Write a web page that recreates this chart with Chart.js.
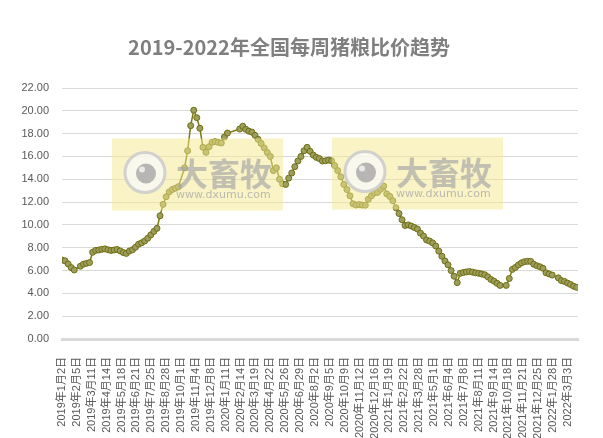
<!DOCTYPE html>
<html>
<head>
<meta charset="utf-8">
<script src="https://cdn.jsdelivr.net/npm/chart.js@4.4.0/dist/chart.umd.min.js"></script>
<style>
html, body { margin: 0; padding: 0; background: #fff; }
#wrap { width: 603px; height: 438px; }
</style>
</head>
<body>
<div id="wrap"><canvas id="chart"></canvas></div>
<script>
// tick labels every 34 days along the date axis
const tickLabels = [
    '2019年1月2日', '2019年2月5日', '2019年3月11日', '2019年4月14日', '2019年5月18日',
    '2019年6月21日', '2019年7月25日', '2019年8月28日', '2019年10月1日', '2019年11月4日',
    '2019年12月8日', '2020年1月11日', '2020年2月14日', '2020年3月19日', '2020年4月22日',
    '2020年5月26日', '2020年6月29日', '2020年8月2日', '2020年9月5日', '2020年10月9日',
    '2020年11月12日', '2020年12月16日', '2021年1月19日', '2021年2月22日', '2021年3月28日',
    '2021年5月1日', '2021年6月4日', '2021年7月8日', '2021年8月11日', '2021年9月14日',
    '2021年10月18日', '2021年11月21日', '2021年12月25日', '2022年1月28日', '2022年3月3日'
];
const tickStepDays = 34;

// weekly hog/grain price ratio, null = week with no quote (holidays)
const ratio2019 = [
    6.92, 6.85, 6.58, 6.26, 6.05, null, 6.38, 6.56, 6.63, 6.70,
    7.60, 7.77, 7.80, 7.86, 7.90, 7.82, 7.76, 7.80, 7.85, 7.72,
    7.58, 7.50, 7.71, 7.82, 8.04, 8.31, 8.43, 8.59, 8.83, 9.13,
    9.43, 9.70, 10.80, 11.80, 12.47, 12.89, 13.11, 13.21, 13.35, null,
    15.00, 16.50, 18.70, 20.05, 19.40, 18.47, 16.80, 16.36, 16.85, 17.24,
    17.30, 17.24, 17.18, 17.70, 18.05
];
const ratio2020 = [
    null, null, null, 18.40, 18.65, 18.38, 18.22, 18.13, 17.85, 17.50,
    17.14, 16.75, 16.35, 16.00, 14.76, 15.00, 14.00, 13.60, 13.55, 14.10,
    14.55, 15.10, 15.60, 16.00, 16.50, 16.80, 16.45, 16.12, 15.92, 15.82,
    15.60, 15.62, 15.68, 15.62, 15.20, 14.76, 14.22, 13.55, 13.10, 12.55,
    11.85, 11.74, 11.78, 11.74, 11.73, 12.25, 12.55, 12.80, 12.85, 13.12,
    13.40, 12.72
];
const ratio2021 = [
    12.50, 12.12, 11.50, 11.00, 10.45, 9.95, 10.00, 9.90, 9.78, 9.64,
    9.28, 9.02, 8.68, 8.58, 8.42, 8.15, 7.70, 7.25, 6.84, 6.50,
    6.00, 5.50, 4.94, 5.76, 5.83, 5.88, 5.92, 5.86, 5.80, 5.76,
    5.70, 5.63, 5.45, 5.22, 5.07, 4.88, 4.70, null, 4.70, 5.30,
    6.10, 6.27, 6.50, 6.68, 6.78, 6.81, 6.80, 6.55, 6.42, 6.33,
    6.20, 5.80, 5.70
];
const ratio2022 = [
    5.60, null, 5.36, 5.12, 5.05, 4.90, 4.78, 4.62, 4.53
];

const weekly = [].concat(ratio2019, ratio2020, ratio2021, ratio2022);
const points = weekly.map((v, i) => ({ x: i * 7, y: v }));

const fontFamily = '"Liberation Sans", "Noto Sans CJK SC", sans-serif';

// the grey/yellow site watermark drawn over the plot
const watermark = {
    id: 'watermark',
    afterDatasetsDraw(chart) {
        const ctx = chart.ctx;
        [[112, 138.5], [332, 137.5]].forEach(([L, T]) => {
            ctx.save();
            ctx.fillStyle = 'rgba(243, 232, 140, 0.5)';
            ctx.fillRect(L, T, 171, 72);
            const cx = L + 33, cy = T + 34;
            ctx.beginPath();
            ctx.arc(cx, cy, 20, 0, Math.PI * 2);
            ctx.fillStyle = 'rgba(250, 250, 250, 0.75)';
            ctx.fill();
            ctx.lineWidth = 3;
            ctx.strokeStyle = 'rgba(205, 205, 205, 0.9)';
            ctx.stroke();
            ctx.beginPath();
            ctx.arc(cx + 1, cy + 1, 10, 0, Math.PI * 2);
            ctx.fillStyle = 'rgba(170, 170, 170, 0.85)';
            ctx.fill();
            ctx.beginPath();
            ctx.arc(cx - 3, cy - 3, 3, 0, Math.PI * 2);
            ctx.fillStyle = 'rgba(240, 240, 240, 0.9)';
            ctx.fill();
            ctx.fillStyle = 'rgba(165, 165, 165, 0.65)';
            ctx.textBaseline = 'alphabetic';
            ctx.font = 'bold 32px "Noto Sans CJK SC"';
            ctx.fillText('大畜牧', L + 64, T + 47);
            ctx.font = '11px "DejaVu Sans"';
            ctx.fillStyle = 'rgba(165, 165, 165, 0.75)';
            ctx.fillText('www.dxumu.com', L + 64, T + 59);
            ctx.restore();
        });
    }
};

new Chart(document.getElementById('chart'), {
    type: 'line',
    data: {
        datasets: [{
            data: points,
            borderColor: '#7a7a10',
            borderWidth: 1.5,
            backgroundColor: '#9e9e5c',
            pointBackgroundColor: '#9e9e5c',
            pointBorderColor: '#6e6e14',
            pointBorderWidth: 1,
            pointRadius: 3,
            spanGaps: true,
            tension: 0,
            fill: false
        }]
    },
    options: {
        responsive: true,
        maintainAspectRatio: false,
        animation: false,
        devicePixelRatio: 1,
        layout: { padding: { left: 0, right: 25, top: 0, bottom: 0 } },
        plugins: {
            legend: { display: false },
            tooltip: { enabled: false },
            title: {
                display: true,
                text: '2019-2022年全国每周猪粮比价趋势',
                color: '#7f7f7f',
                font: { family: '"Noto Sans CJK SC", sans-serif', size: 20, weight: 'bold' },
                padding: { top: 35, bottom: 29 }
            }
        },
        scales: {
            x: {
                type: 'linear',
                min: 0,
                max: 1179,
                grid: { display: false },
                border: { display: true, color: '#d9d9d9', width: 3 },
                afterFit: (scale) => { scale.height = 99; },
                ticks: {
                    stepSize: tickStepDays,
                    includeBounds: false,
                    autoSkip: false,
                    minRotation: 90,
                    maxRotation: 90,
                    padding: 10,
                    color: '#595959',
                    font: { family: fontFamily, size: 11 },
                    callback: (value) => tickLabels[Math.round(value / tickStepDays)] || ''
                }
            },
            y: {
                min: 0,
                max: 22,
                grid: { color: '#d9d9d9', lineWidth: 1, drawTicks: false },
                border: { display: false },
                afterFit: (scale) => { scale.width = 62; },
                ticks: {
                    stepSize: 2,
                    padding: 13,
                    color: '#595959',
                    font: { family: fontFamily, size: 11 },
                    callback: (value) => value.toFixed(2)
                }
            }
        }
    },
    plugins: [watermark]
});
</script>
</body>
</html>
